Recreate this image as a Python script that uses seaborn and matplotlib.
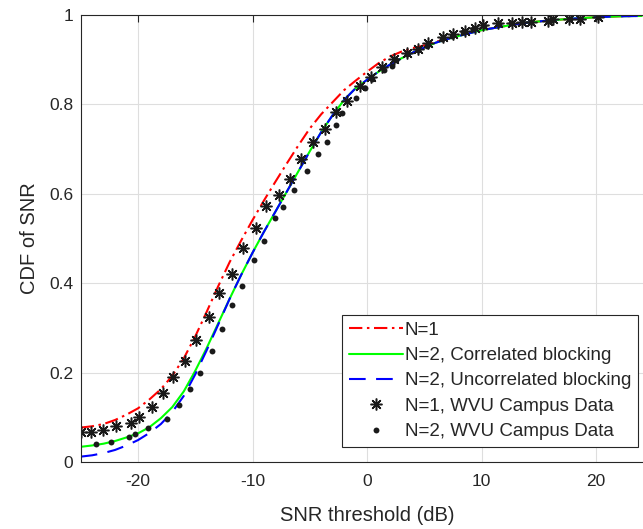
import numpy as np
import pandas as pd
import matplotlib
matplotlib.use("Agg")
import matplotlib.pyplot as plt
import seaborn as sns

# analytical curves
snr_grid = [-25, -24, -23, -22, -21, -20, -19, -18, -17, -16, -15, -14, -13, -12, -11, -10,
            -9, -8, -7, -6, -5, -4, -3, -2, -1, 0, 1, 2, 3, 4, 5, 6, 7, 8, 10, 12, 14, 16,
            18, 20, 22, 24]
cdf_n1 = [0.077, 0.080, 0.085, 0.094, 0.106, 0.120, 0.140, 0.163, 0.193, 0.232, 0.281, 0.336,
          0.393, 0.447, 0.495, 0.541, 0.585, 0.627, 0.668, 0.708, 0.746, 0.778, 0.805, 0.832,
          0.853, 0.873, 0.892, 0.907, 0.918, 0.926, 0.932, 0.940, 0.947, 0.954, 0.966, 0.975,
          0.983, 0.988, 0.992, 0.995, 0.997, 0.998]
cdf_n2_corr = [0.034, 0.037, 0.041, 0.047, 0.055, 0.064, 0.078, 0.098, 0.123, 0.158, 0.204,
               0.255, 0.310, 0.365, 0.418, 0.468, 0.515, 0.560, 0.605, 0.650, 0.695, 0.738,
               0.776, 0.810, 0.836, 0.855, 0.873, 0.889, 0.903, 0.916, 0.927, 0.938, 0.946,
               0.953, 0.966, 0.975, 0.983, 0.988, 0.992, 0.995, 0.997, 0.998]
cdf_n2_uncorr = [0.012, 0.015, 0.020, 0.027, 0.037, 0.049, 0.065, 0.085, 0.112, 0.148, 0.196,
                 0.250, 0.307, 0.365, 0.418, 0.468, 0.515, 0.560, 0.605, 0.650, 0.695, 0.738,
                 0.776, 0.810, 0.836, 0.855, 0.873, 0.889, 0.903, 0.916, 0.927, 0.938, 0.946,
                 0.953, 0.966, 0.975, 0.983, 0.988, 0.992, 0.995, 0.997, 0.998]

# measured campus data
n1_snr = [-25.0, -24.1, -23.1, -21.95, -20.6, -19.9, -18.8, -17.8, -16.9, -15.9, -14.9, -13.8,
          -12.9, -11.8, -10.8, -9.7, -8.8, -7.7, -6.75, -5.75, -4.75, -3.7, -2.7, -1.75, -0.65,
          0.35, 1.33, 2.39, 3.48, 4.42, 5.37, 6.62, 7.49, 8.57, 9.44, 10.16, 11.47, 12.64, 13.51,
          14.32, 15.83, 16.21, 17.66, 18.59, 20.19]
n1_cdf = [0.066, 0.066, 0.072, 0.081, 0.088, 0.100, 0.122, 0.155, 0.191, 0.227, 0.274, 0.324,
          0.377, 0.421, 0.478, 0.523, 0.573, 0.597, 0.633, 0.678, 0.717, 0.744, 0.782, 0.808,
          0.841, 0.862, 0.883, 0.901, 0.914, 0.924, 0.938, 0.950, 0.957, 0.964, 0.970, 0.977,
          0.981, 0.981, 0.984, 0.985, 0.987, 0.990, 0.992, 0.992, 0.996]
n2_snr = [-23.7, -22.4, -20.8, -20.3, -19.1, -17.5, -16.4, -15.5, -14.6, -13.5, -12.7, -11.8,
          -10.9, -9.9, -9.0, -8.0, -7.3, -6.4, -5.2, -4.3, -3.5, -2.7, -2.2, -1.0, -0.15, 0.43,
          1.5, 2.17, 2.52, 3.53, 4.49, 5.22, 6.53, 7.41, 8.42, 9.29, 10.2, 11.5, 12.6, 13.5,
          14.3, 15.8, 16.2, 17.7, 18.6, 20.2]
n2_cdf = [0.040, 0.044, 0.055, 0.062, 0.075, 0.096, 0.127, 0.163, 0.198, 0.248, 0.297, 0.351,
          0.394, 0.452, 0.495, 0.546, 0.570, 0.609, 0.652, 0.688, 0.717, 0.755, 0.781, 0.814,
          0.836, 0.856, 0.877, 0.886, 0.899, 0.913, 0.922, 0.931, 0.946, 0.954, 0.961, 0.968,
          0.975, 0.979, 0.981, 0.984, 0.985, 0.987, 0.989, 0.991, 0.992, 0.995]

curves = pd.DataFrame({'snr': snr_grid, 'n1': cdf_n1, 'corr': cdf_n2_corr,
                       'uncorr': cdf_n2_uncorr})
meas1 = pd.DataFrame({'snr': n1_snr, 'cdf': n1_cdf})
meas2 = pd.DataFrame({'snr': n2_snr, 'cdf': n2_cdf})

sns.set_theme(style='white')
plt.rcParams['font.family'] = ['Liberation Sans', 'DejaVu Sans']
plt.rcParams['axes.unicode_minus'] = False

dark = '#262626'
fig = plt.figure(figsize=(6.43, 5.29), dpi=100)
ax = fig.add_axes([80.75 / 643, 67 / 529, 572.5 / 643, 447 / 529])

sns.lineplot(data=curves, x='snr', y='n1', ax=ax, color='#ff0000', lw=1.5,
             linestyle=(0, (6.4, 2.2, 1.2, 2.2)), sort=False, label='N=1')
sns.lineplot(data=curves, x='snr', y='corr', ax=ax, color='#00ff00', lw=1.5,
             sort=False, label='N=2, Correlated blocking')
sns.lineplot(data=curves, x='snr', y='uncorr', ax=ax, color='#0000ff', lw=1.5,
             linestyle=(0, (8, 5)), sort=False, label='N=2, Uncorrelated blocking')
sns.lineplot(data=meas1, x='snr', y='cdf', ax=ax, color='k', linestyle='', marker=(8, 2, 0),
             markersize=8.5, markeredgewidth=1.1, markeredgecolor='k', sort=False,
             label='N=1, WVU Campus Data')
sns.lineplot(data=meas2, x='snr', y='cdf', ax=ax, color='k', linestyle='', marker='.',
             markersize=8.5, markeredgewidth=0, markerfacecolor='k', sort=False,
             label='N=2, WVU Campus Data')

ax.set_xlim(-25, 25)
ax.set_ylim(0, 1)
ax.set_xticks([-20, -10, 0, 10, 20])
ax.set_yticks([0, 0.2, 0.4, 0.6, 0.8, 1])
ax.set_yticklabels(['0', '0.2', '0.4', '0.6', '0.8', '1'])
ax.grid(True, color='#dedede', lw=0.8)
ax.set_axisbelow(True)
for s in ax.spines.values():
    s.set_color(dark)
    s.set_linewidth(0.8)
ax.tick_params(direction='in', length=5, width=0.8, color=dark, labelcolor=dark,
               labelsize=12.5, top=True, right=True)
ax.tick_params(axis='x', pad=9)
ax.tick_params(axis='y', pad=5.5)
ax.set_xlabel('SNR threshold (dB)', fontsize=14.5, color=dark, labelpad=12)
ax.set_ylabel('CDF of SNR', fontsize=14.5, color=dark, labelpad=7)

leg = ax.legend(loc='lower right', bbox_to_anchor=(0.973, 0.034), borderaxespad=0,
                fontsize=13.5, handlelength=2.9, handletextpad=0.1, labelspacing=0.44,
                borderpad=0.35, fancybox=False, framealpha=1, edgecolor=dark)
leg.get_frame().set_linewidth(0.8)

fig.savefig('out.png', dpi=100)
